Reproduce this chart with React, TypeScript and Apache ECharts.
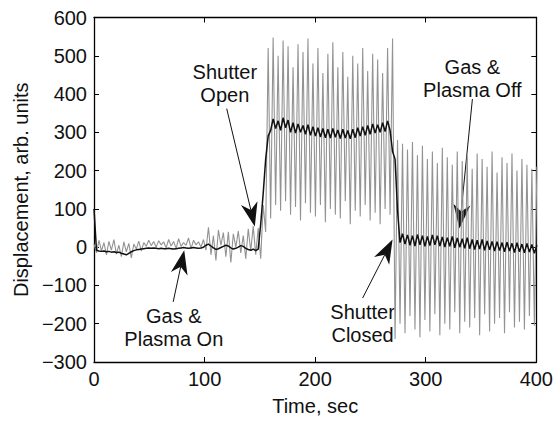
import React, { useEffect, useRef } from "react";
import * as echarts from "echarts";

// sampling step of the recorded signal, seconds
const SAMPLE_STEP = 2.25;

// raw displacement signal (gray trace)
const grayPre = [8, -15, 18, -10, 12, -20, 15, -8, 20, -18, 5, -25, 14, -12, 10, -28, 8, -5, 16, -10, 12, 2, 18, 4, 15, 0, 17, 6, 14, -2, 20, 3, 15, -3, 22, 2, 12, 5, 24, -4, 18, 6, 14, 0, 20];
const grayLate = [-8, 52, -20, 30, -35, 45, 5, 38, -25, 40, -40, 35, 0, 42, -15, 30, -30, 48, -10, 55, -20, 50];
const grayRise = [-30, 110, 40];
const grayOpen = [520, 75, 548, 110, 500, 95, 540, 120, 525, 85, 470, 105, 530, 70, 510, 115, 545, 90, 480, 80, 520, 110, 455, 65, 505, 100, 535, 85, 470, 75, 510, 120, 445, 60, 500, 95, 480, 80, 520, 110, 460, 70, 505, 90, 490, 60, 455, 100, 520, 85, 545];
const grayClosed = [-240, 280, -200, 270, -225, 255, -180, 275, -215, 240, -235, 265, -190, 230, -220, 250, -175, 220, -230, 260, -200, 235, -215, 215, -170, 250, -225, 225, -195, 240, -210, 205, -185, 245, -230, 230, -175, 210, -220, 250, -200, 195, -185, 235, -225, 220, -170, 245, -210, 200, -195, 230, -215, 215, -180, 205, -205, 210];

// smoothed displacement (black trace)
const blackPre = [100, -8, -10, -11, -10, -12, -11, -13, -12, -14, -13, -16, -18, -20, -16, -12, -9, -7, -6, -5, -4, -3, -2, -3, -2, -3, -4, -3, -4, -4, -3, -4, -5, -4, -3, -2, -1, -2, -3, -2, -1, -2, -3, -2, 0];
const blackLateRise = [5, 8, 3, -2, -6, -4, -1, 2, 5, 3, -2, -5, -3, 0, 4, 2, -3, -6, -8, -5, -9, -5, 60, 140, 230];
const blackOpen = [290, 305, 335, 310, 330, 305, 338, 312, 332, 300, 325, 298, 322, 300, 318, 295, 320, 292, 315, 290, 312, 288, 310, 286, 308, 285, 310, 287, 306, 284, 308, 285, 305, 283, 308, 286, 312, 290, 315, 292, 318, 295, 322, 298, 320, 300, 325, 302, 330, 305, 250];
const blackClosed = [230, 95, 12, 35, 8, 32, 5, 30, 3, 33, 6, 30, 2, 28, 4, 32, 6, 30, 3, 27, 0, 25, 2, 28, -2, 24, 0, 22, -3, 25, -4, 20, -6, 18, -5, 20, -8, 16, -7, 15, -10, 14, -9, 12, -12, 13, -10, 10, -14, 12, -12, 8, -15, 10, -13, 7, -16, 5];

// axes
const X_MIN = 0, X_MAX = 400, X_STEP = 100;
const Y_MIN = -300, Y_MAX = 600, Y_STEP = 100;

// annotations (data coordinates)
const noteTexts = ["Shutter\nOpen", "Gas &\nPlasma On", "Shutter\nClosed", "Gas &\nPlasma Off"];
const noteTextAt = [[118.3, 427], [72.2, -209], [242.9, -200], [342.2, 441]];
const noteArrowFrom = [[120, 362], [71.6, -143], [242.9, -133], [342.2, 387]];
const noteArrowTo = [[145.4, 54], [81.6, -8], [270, 20], [330.5, 49]];

const FONT = "'Liberation Sans', Arial, Helvetica, sans-serif";

export default function App() {
  const ref = useRef<HTMLDivElement>(null);
  useEffect(() => {
    const chart = echarts.init(ref.current!, null, { renderer: "svg" });
    const gray = [...grayPre, ...grayLate, ...grayRise, ...grayOpen, ...grayClosed];
    const black = [...blackPre, ...blackLateRise, ...blackOpen, ...blackClosed];
    const grayData = gray.map((v, i) => [i * SAMPLE_STEP, v]);
    const blackData = black.map((v, i) => [i * SAMPLE_STEP, v]);

    const axisLine = { show: true, onZero: false, lineStyle: { color: "#000", width: 1.3 } };
    const axisTick = { show: true, inside: true, length: 5, lineStyle: { color: "#000", width: 1 } };
    const minus = (v: number) => String(v).replace("-", "\u2212");

    chart.setOption({
      animation: false,
      backgroundColor: "#fff",
      grid: { left: 94, right: 19, top: 17.5, bottom: 53, containLabel: false },
      xAxis: [
        {
          type: "value", min: X_MIN, max: X_MAX, interval: X_STEP, position: "bottom",
          axisLine, axisTick, splitLine: { show: false },
          axisLabel: { color: "#111", fontSize: 20, fontFamily: FONT, margin: 7 },
          name: "Time, sec", nameLocation: "middle", nameGap: 34,
          nameTextStyle: { color: "#111", fontSize: 20, fontFamily: FONT },
        },
        {
          type: "value", min: X_MIN, max: X_MAX, interval: X_STEP, position: "top",
          axisLine, axisTick, splitLine: { show: false }, axisLabel: { show: false },
        },
      ],
      yAxis: [
        {
          type: "value", min: Y_MIN, max: Y_MAX, interval: Y_STEP, position: "left",
          axisLine, axisTick, splitLine: { show: false },
          axisLabel: { color: "#111", fontSize: 20, fontFamily: FONT, margin: 7, formatter: minus },
          name: "Displacement, arb. units", nameLocation: "middle", nameGap: 62,
          nameTextStyle: { color: "#111", fontSize: 20, fontFamily: FONT },
        },
        {
          type: "value", min: Y_MIN, max: Y_MAX, interval: Y_STEP, position: "right",
          axisLine, axisTick, splitLine: { show: false }, axisLabel: { show: false },
        },
      ],
      series: [
        {
          type: "line", data: grayData, showSymbol: false, symbol: "none",
          lineStyle: { color: "#939393", width: 1.1 }, clip: true, silent: true,
        },
        {
          type: "line", data: blackData, showSymbol: false, symbol: "none",
          lineStyle: { color: "#111", width: 1.5 }, clip: true, silent: true,
        },
      ],
    });

    const toPx = (p: number[]) => chart.convertToPixel({ xAxisIndex: 0, yAxisIndex: 0 }, p) as number[];
    const elements: any[] = [];
    noteTexts.forEach((txt, k) => {
      const tp = toPx(noteTextAt[k]);
      elements.push({
        type: "text", x: tp[0], y: tp[1], silent: true,
        style: { text: txt, align: "center", verticalAlign: "middle", fontSize: 20, fontFamily: FONT, fill: "#111", lineHeight: 23 },
      });
      const a = toPx(noteArrowFrom[k]);
      const b = toPx(noteArrowTo[k]);
      const dx = b[0] - a[0], dy = b[1] - a[1];
      const len = Math.hypot(dx, dy);
      const ux = dx / len, uy = dy / len;
      const nx = -uy, ny = ux;
      const L = 24, W = 8.5, N = 7;
      const back = [b[0] - ux * L, b[1] - uy * L];
      const notch = [b[0] - ux * (L - N), b[1] - uy * (L - N)];
      elements.push({
        type: "line", silent: true,
        shape: { x1: a[0], y1: a[1], x2: notch[0], y2: notch[1] },
        style: { stroke: "#111", lineWidth: 1 },
      });
      elements.push({
        type: "polygon", silent: true,
        shape: { points: [b, [back[0] + nx * W, back[1] + ny * W], notch, [back[0] - nx * W, back[1] - ny * W]] },
        style: { fill: "#111" },
      });
    });
    chart.setOption({ graphic: elements });

    return () => chart.dispose();
  }, []);
  return <div ref={ref} style={{ width: 556, height: 421, position: "absolute", left: 0, top: 0 }} />;
}
